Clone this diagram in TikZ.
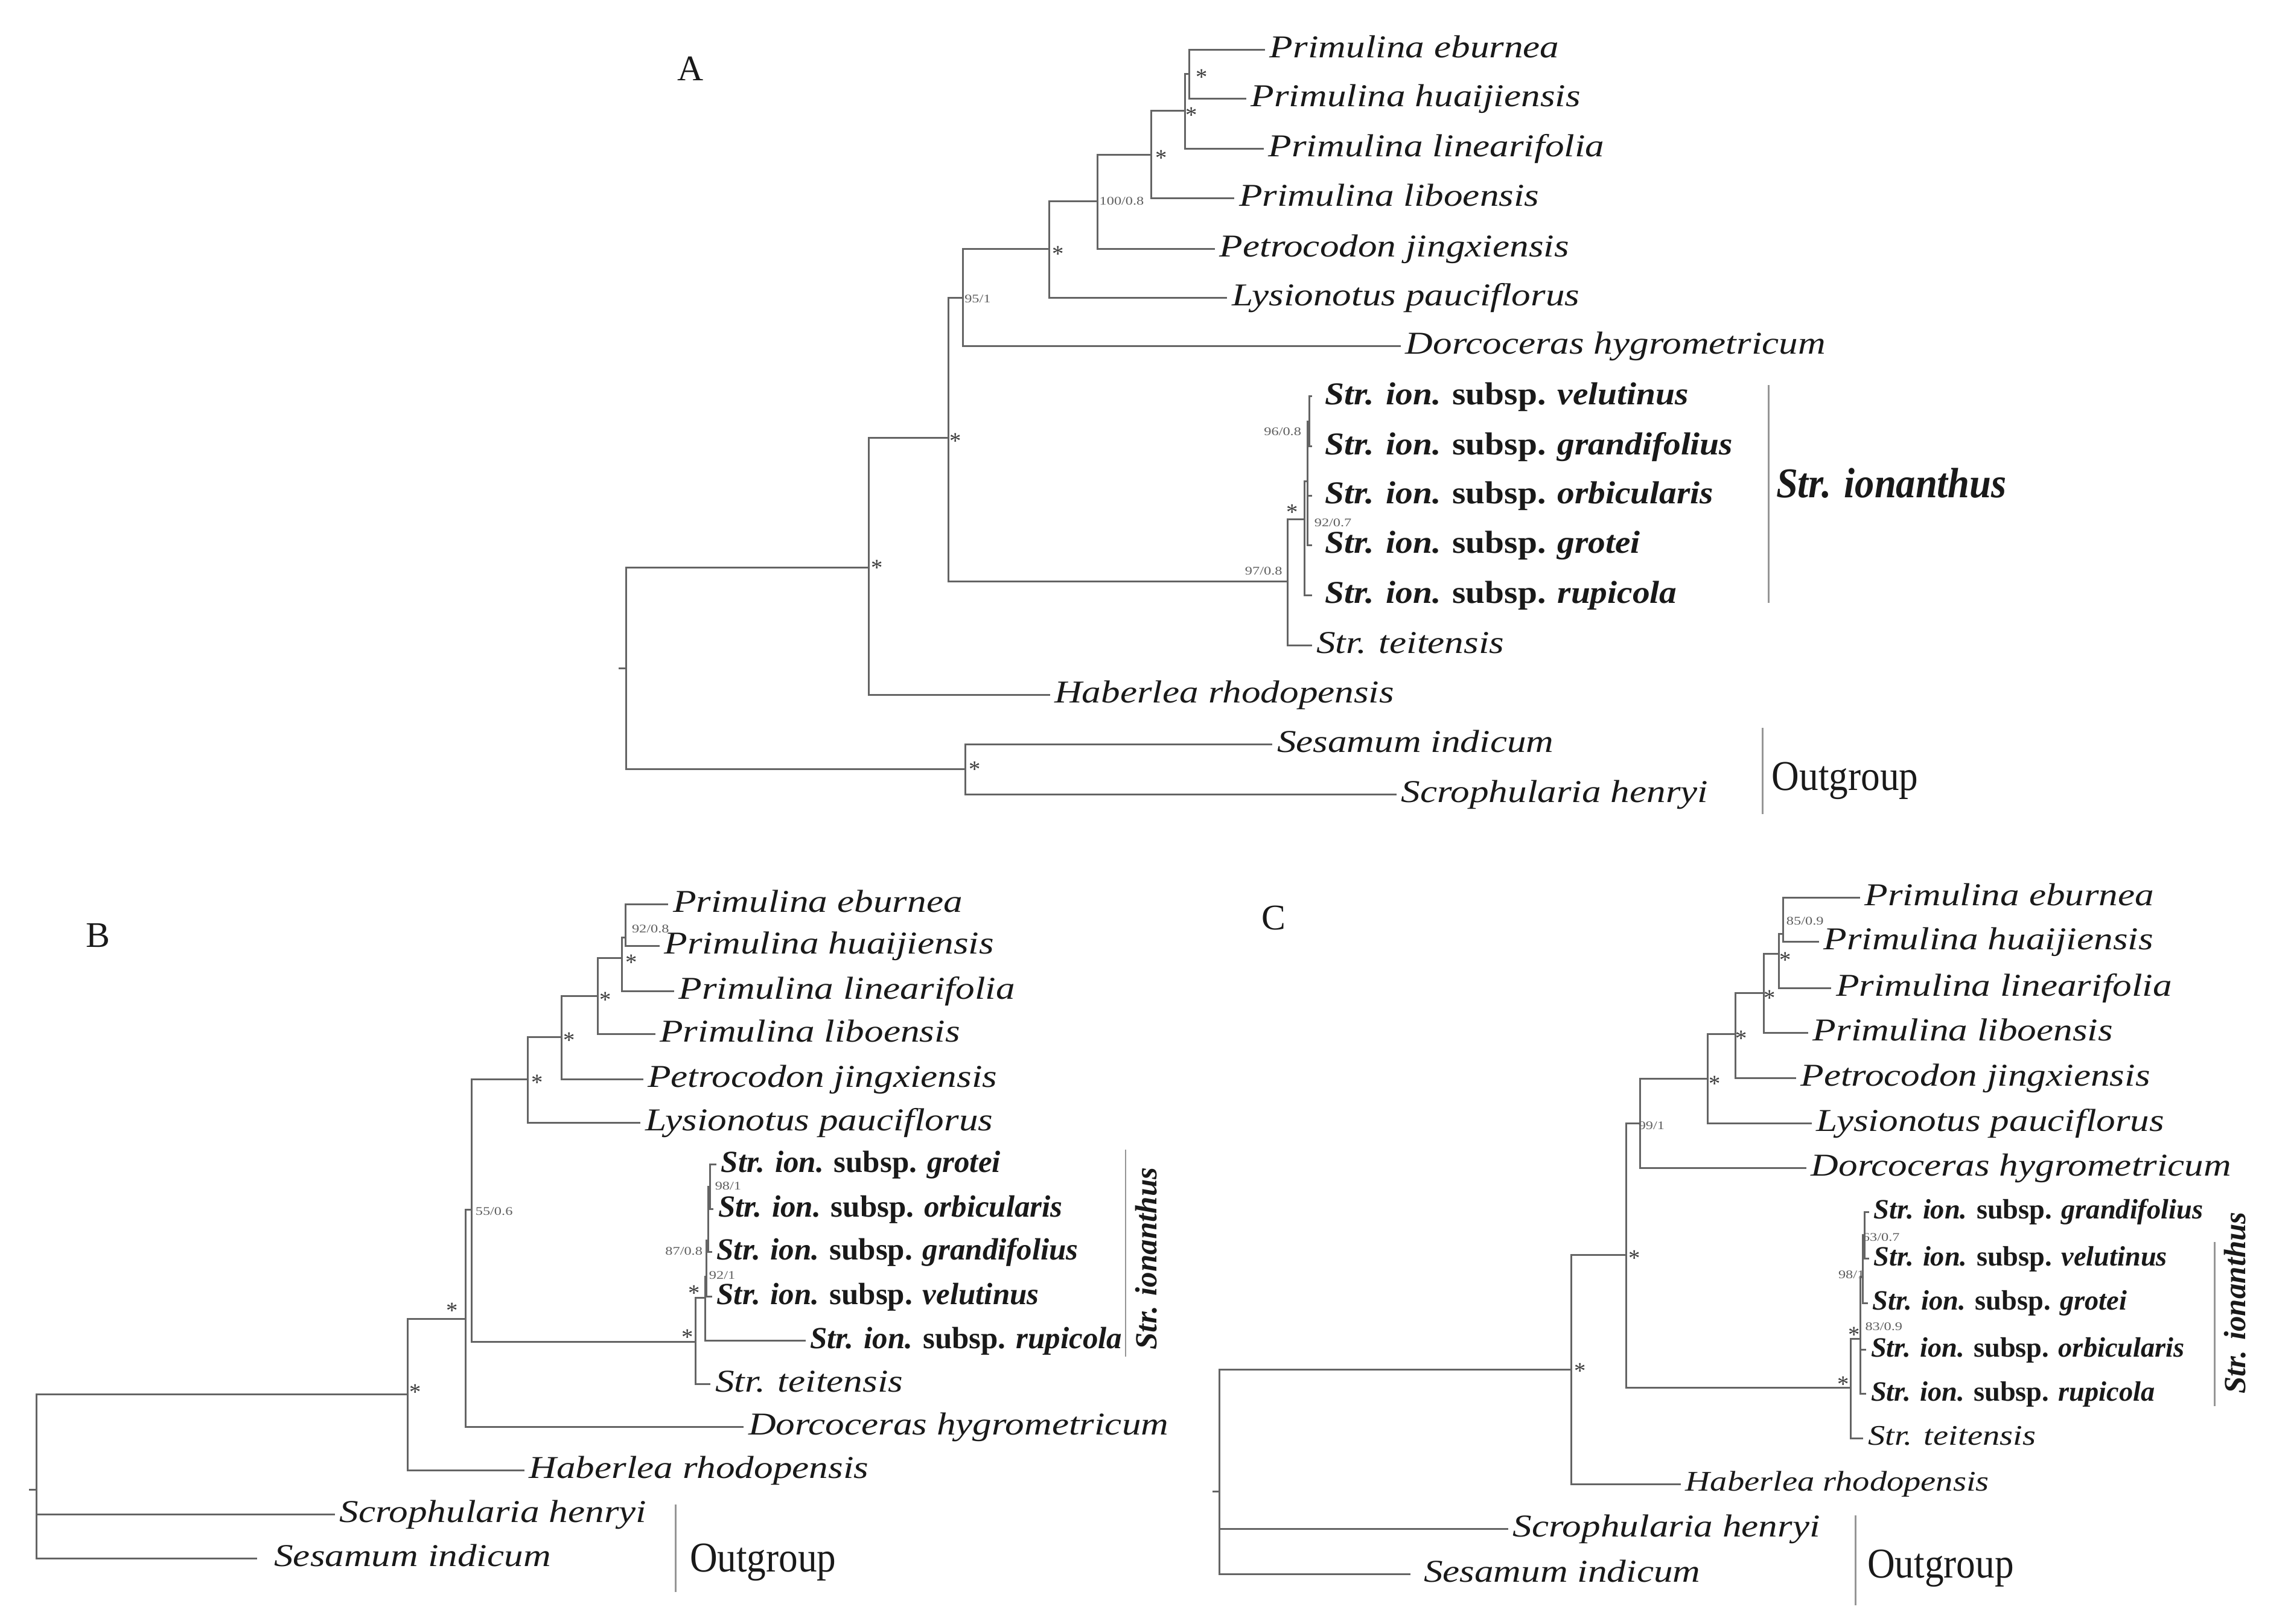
\documentclass[tikz,border=0pt]{standalone}
\usepackage{fontspec}
\setmainfont{Liberation Serif}
\usepackage{graphicx}
\definecolor{ln}{RGB}{100,100,100}
\definecolor{lb}{RGB}{150,150,150}
\definecolor{svc}{RGB}{95,95,95}
\definecolor{stc}{RGB}{60,60,60}
\definecolor{tx}{RGB}{25,25,25}
\newcommand{\nm}[1]{\scalebox{1.2}[1]{\itshape #1}}
\newcommand{\ssp}[2]{\scalebox{#1}[1]{\bfseries\textit{Str. ion.} subsp. \textit{#2}}}
\newcommand{\sv}[1]{\scalebox{1.26}[1]{#1}}
\tikzset{
  br/.style={draw=ln, line width=0.85pt},
  brk/.style={draw=lb, line width=0.7pt},
  leaf/.style={anchor=west, inner xsep=2pt, inner ysep=0pt, text height=9.4pt, text depth=2pt, text=tx, font=\fontsize{15}{17}\selectfont},
  leafs/.style={leaf, font=\fontsize{13.4}{15}\selectfont, text height=8.4pt, text depth=1.8pt},
  sspA/.style={leaf, font=\fontsize{15}{17}\selectfont, text height=9.6pt, text depth=2pt},
  sspB/.style={leaf, font=\fontsize{14.5}{17}\selectfont},
  sspC/.style={leaf, font=\fontsize{13.2}{15}\selectfont, text height=8.4pt, text depth=1.7pt},
  sup/.style={font=\fontsize{5.5}{6}\selectfont, text=svc, inner sep=0pt},
  astk/.style={font=\fontsize{11}{12}\selectfont, text=stc, inner sep=0pt, yshift=-1.6pt},
  panel/.style={font=\fontsize{17}{19}\selectfont, text=tx, inner sep=0pt},
  grp/.style={font=\fontsize{20}{22}\selectfont, text=tx, inner sep=0pt, anchor=west, text depth=0pt},
  ionlbl/.style={font=\fontsize{14.5}{16}\selectfont\bfseries\itshape, text=tx, inner sep=0pt, rotate=90}
}
\begin{document}
\begin{tikzpicture}[x=0.2418mm, y=-0.2418mm]
\useasboundingbox (0,0) rectangle (1568,1113);

% ================= TREE A =================
\node[panel] (LA) at (473,47) {A};
\coordinate (Art) at (424,458);
\coordinate (Ar) at (429,458);
\coordinate (Aing) at (595.5,389);
\coordinate (Aout) at (661.5,527);
\coordinate (Abig) at (650,300);
\coordinate (A95) at (660,204);
\coordinate (A5) at (719,170.8);
\coordinate (A100) at (752,138);
\coordinate (A3) at (789,106);
\coordinate (A2) at (812,76);
\coordinate (A1) at (815,50.7);
\coordinate (Astr) at (882.4,398.4);
\coordinate (Aion) at (894,355.7);
\coordinate (A92) at (896,330);
\coordinate (A96) at (897.5,289);

\node[leaf] (Aeb) at (867,34.3) {\nm{Primulina eburnea}};
\node[leaf] (Ahu) at (854,67.8) {\nm{Primulina huaijiensis}};
\node[leaf] (Ali) at (866,102) {\nm{Primulina linearifolia}};
\node[leaf] (Alb) at (846,135.7) {\nm{Primulina liboensis}};
\node[leaf] (Ape) at (832.6,170.8) {\nm{Petrocodon jingxiensis}};
\node[leaf] (Aly) at (841,204) {\nm{Lysionotus pauciflorus}};
\node[leaf] (Ado) at (960,237) {\nm{Dorcoceras hygrometricum}};
\node[leaf] (Aha) at (719.5,476.3) {\nm{Haberlea rhodopensis}};
\node[leaf] (Ase) at (872,510) {\nm{Sesamum indicum}};
\node[leaf] (Asc) at (957,544.7) {\nm{Scrophularia henryi}};
\node[leaf] (Ate) at (899,442.5) {\nm{Str. teitensis}};
\node[sspA] (Ave) at (905,271.6) {\ssp{1.09}{velutinus}};
\node[sspA] (Agd) at (905,306) {\ssp{1.09}{grandifolius}};
\node[sspA] (Aor) at (905,339.8) {\ssp{1.09}{orbicularis}};
\node[sspA] (Agr) at (905,373.6) {\ssp{1.09}{grotei}};
\node[sspA] (Aru) at (905,408) {\ssp{1.09}{rupicola}};

\draw[br] (Art) -- (Ar);
\draw[br] (Ar) |- (Aing);
\draw[br] (Ar) |- (Aout);
\draw[br] (Aing) |- (Abig);
\draw[br] (Aing) |- (Aha.west);
\draw[br] (Aout) |- (Ase.west);
\draw[br] (Aout) |- (Asc.west);
\draw[br] (Abig) |- (A95);
\draw[br] (Abig) |- (Astr);
\draw[br] (A95) |- (A5);
\draw[br] (A95) |- (Ado.west);
\draw[br] (A5) |- (A100);
\draw[br] (A5) |- (Aly.west);
\draw[br] (A100) |- (A3);
\draw[br] (A100) |- (Ape.west);
\draw[br] (A3) |- (A2);
\draw[br] (A3) |- (Alb.west);
\draw[br] (A2) |- (A1);
\draw[br] (A2) |- (Ali.west);
\draw[br] (A1) |- (Aeb.west);
\draw[br] (A1) |- (Ahu.west);
\draw[br] (Astr) |- (Aion);
\draw[br] (Astr) |- (Ate.west);
\draw[br] (Aion) |- (A92);
\draw[br, shorten >=4pt] (Aion) |- (Aru.west);
\draw[br] (A92) |- (A96);
\draw[br, shorten >=4pt] (A92) |- (Aor.west);
\draw[br, shorten >=4pt] (A92) |- (Agr.west);
\draw[br, shorten >=4pt] (A96) |- (Ave.west);
\draw[br, shorten >=4pt] (A96) |- (Agd.west);

\node[astk] (sA1) at (823.5,50.7) {*};
\node[astk] (sA2) at (816.6,76.8) {*};
\node[astk] (sA3) at (795.7,106) {*};
\node[sup] (lA100) at (768.7,138) {\sv{100/0.8}};
\node[astk] (sA5) at (725,171.7) {*};
\node[sup] (lA95) at (670,205) {\sv{95/1}};
\node[astk] (sAbig) at (655,300) {*};
\node[astk] (sAing) at (601,387) {*};
\node[astk] (sAout) at (668,525) {*};
\node[sup] (lA97) at (866,391.5) {\sv{97/0.8}};
\node[astk] (sAstr) at (885.5,348.8) {*};
\node[sup] (lA96) at (879,295.7) {\sv{96/0.8}};
\node[sup] (lA92) at (913.5,358.4) {\sv{92/0.7}};

\coordinate (AbT) at (1212,264);
\coordinate (AbB) at (1212,413);
\draw[brk] (AbT) -- (AbB);
\node[anchor=west, inner sep=0pt, text=tx, font=\fontsize{20}{22}\selectfont\bfseries\itshape] (Aionl) at (1217,331) {\scalebox{0.917}[1]{Str. ionanthus}};
\coordinate (AoT) at (1208,499);
\coordinate (AoB) at (1208,558);
\draw[brk] (AoT) -- (AoB);
\node[grp] (Aog) at (1214,532) {\scalebox{0.9}[1]{Outgroup}};

% ================= TREE B =================
\node[panel] (LB) at (67,641) {B};
\coordinate (Brt) at (19.8,1021);
\coordinate (Br) at (25,1021);
\coordinate (Bing) at (279.5,955.8);
\coordinate (Bs) at (319,904);
\coordinate (B55) at (323.4,829);
\coordinate (Bpr) at (361.8,739.8);
\coordinate (Bp4) at (384.8,710.6);
\coordinate (Bp3) at (409.8,682.8);
\coordinate (Bp2) at (426.3,656.7);
\coordinate (Bp1) at (428.5,642.4);
\coordinate (Bstr) at (476.5,919.5);
\coordinate (Bion) at (483.2,889.4);
\coordinate (B92) at (484.2,875);
\coordinate (B87) at (485.3,850);
\coordinate (B98) at (486.5,813.3);

\node[leaf] (Beb) at (458,619.9) {\nm{Primulina eburnea}};
\node[leaf] (Bhu) at (452,648.4) {\nm{Primulina huaijiensis}};
\node[leaf] (Bli) at (462,679.2) {\nm{Primulina linearifolia}};
\node[leaf] (Blb) at (449,708.9) {\nm{Primulina liboensis}};
\node[leaf] (Bpe) at (440.7,739.8) {\nm{Petrocodon jingxiensis}};
\node[leaf] (Bly) at (439,769.5) {\nm{Lysionotus pauciflorus}};
\node[leaf] (Bdo) at (509.7,978.1) {\nm{Dorcoceras hygrometricum}};
\node[leaf] (Bha) at (359.3,1007.7) {\nm{Haberlea rhodopensis}};
\node[leaf] (Bsc) at (229.5,1037.8) {\nm{Scrophularia henryi}};
\node[leaf, inner xsep=8pt] (Bse) at (176,1068.1) {\nm{Sesamum indicum}};
\node[leaf] (Bte) at (487,948.4) {\nm{Str. teitensis}};
\node[sspB] (Bgr) at (491,798.2) {\ssp{1}{grotei}};
\node[sspB] (Bor) at (489,828.5) {\ssp{1}{orbicularis}};
\node[sspB] (Bgd) at (488,858.2) {\ssp{1}{grandifolius}};
\node[sspB] (Bve) at (488,888.5) {\ssp{1}{velutinus}};
\node[sspB] (Bru) at (552,918.8) {\ssp{1}{rupicola}};

\draw[br] (Brt) -- (Br);
\draw[br] (Br) |- (Bing);
\draw[br] (Br) |- (Bsc.west);
\draw[br] (Br) |- (Bse.west);
\draw[br] (Bing) |- (Bs);
\draw[br] (Bing) |- (Bha.west);
\draw[br] (Bs) |- (B55);
\draw[br] (Bs) |- (Bdo.west);
\draw[br] (B55) |- (Bpr);
\draw[br] (B55) |- (Bstr);
\draw[br] (Bpr) |- (Bp4);
\draw[br] (Bpr) |- (Bly.west);
\draw[br] (Bp4) |- (Bp3);
\draw[br] (Bp4) |- (Bpe.west);
\draw[br] (Bp3) |- (Bp2);
\draw[br] (Bp3) |- (Blb.west);
\draw[br] (Bp2) |- (Bp1);
\draw[br] (Bp2) |- (Bli.west);
\draw[br] (Bp1) |- (Beb.west);
\draw[br] (Bp1) |- (Bhu.west);
\draw[br] (Bstr) |- (Bion);
\draw[br] (Bstr) |- (Bte.west);
\draw[br] (Bion) |- (B92);
\draw[br] (Bion) |- (Bru.west);
\draw[br] (B92) |- (B87);
\draw[br] (B92) |- (Bve.west);
\draw[br] (B87) |- (B98);
\draw[br] (B87) |- (Bgd.west);
\draw[br] (B98) |- (Bgr.west);
\draw[br] (B98) |- (Bor.west);

\node[sup] (lB92) at (445.8,636.5) {\sv{92/0.8}};
\node[astk] (sBp2) at (432.8,657.4) {*};
\node[astk] (sBp3) at (415,682.8) {*};
\node[astk] (sBp4) at (390.3,710.6) {*};
\node[astk] (sBpr) at (368,739.8) {*};
\node[sup] (lB55) at (338.6,830) {\sv{55/0.6}};
\node[astk] (sBs) at (310,896) {*};
\node[astk] (sBing) at (284.6,952) {*};
\node[astk] (sBstr) at (471.2,914) {*};
\node[astk] (sBion) at (475.6,884) {*};
\node[sup] (lB98) at (499,812.7) {\sv{98/1}};
\node[sup] (lB87) at (468.7,857.4) {\sv{87/0.8}};
\node[sup] (lB921) at (494.9,874) {\sv{92/1}};

\coordinate (BbT) at (771.4,787.8);
\coordinate (BbB) at (771.4,929.8);
\draw[brk] (BbT) -- (BbB);
\node[ionlbl] (Bionl) at (785.6,862.6) {Str. ionanthus};
\coordinate (BoT) at (463,1031.1);
\coordinate (BoB) at (463,1091.1);
\draw[brk] (BoT) -- (BoB);
\node[grp] (Bog) at (472.5,1067.7) {\scalebox{0.9}[1]{Outgroup}};

% ================= TREE C =================
\node[panel] (LC) at (873,629) {C};
\coordinate (Crt) at (831,1022.2);
\coordinate (Cr) at (835.6,1022.2);
\coordinate (Cing) at (1077,938.8);
\coordinate (Cs) at (1114.5,860);
\coordinate (C99) at (1124,769.8);
\coordinate (Ca5) at (1170.4,739.3);
\coordinate (Ca4) at (1189.3,708.6);
\coordinate (Ca3) at (1208.8,680.7);
\coordinate (Ca2) at (1219,653.5);
\coordinate (Ca1) at (1222.2,640);
\coordinate (Cstr) at (1268.4,951.2);
\coordinate (Cion) at (1275.1,917.4);
\coordinate (C98) at (1276.5,875);
\coordinate (C63) at (1277.8,846.6);

\node[leaf] (Ceb) at (1274.7,615.2) {\nm{Primulina eburnea}};
\node[leaf] (Chu) at (1246.5,645.6) {\nm{Primulina huaijiensis}};
\node[leaf] (Cli) at (1255,677.2) {\nm{Primulina linearifolia}};
\node[leaf] (Clb) at (1239.2,707.8) {\nm{Primulina liboensis}};
\node[leaf] (Cpe) at (1230.8,739) {\nm{Petrocodon jingxiensis}};
\node[leaf] (Cly) at (1241.7,769.8) {\nm{Lysionotus pauciflorus}};
\node[leaf] (Cdo) at (1238,800.7) {\nm{Dorcoceras hygrometricum}};
\node[leafs] (Cha) at (1152,1017.1) {\nm{Haberlea rhodopensis}};
\node[leaf] (Csc) at (1033.7,1048) {\nm{Scrophularia henryi}};
\node[leaf, inner xsep=6pt] (Cse) at (966.7,1079) {\nm{Sesamum indicum}};
\node[leafs] (Cte) at (1277,985.7) {\nm{Str. teitensis}};
\node[sspC] (Cgd) at (1281,830.6) {\ssp{1}{grandifolius}};
\node[sspC] (Cve) at (1281,862.7) {\ssp{1}{velutinus}};
\node[sspC] (Cgr) at (1280,893) {\ssp{1}{grotei}};
\node[sspC] (Cor) at (1279,925) {\ssp{1}{orbicularis}};
\node[sspC] (Cru) at (1279,955.3) {\ssp{1}{rupicola}};

\draw[br] (Crt) -- (Cr);
\draw[br] (Cr) |- (Cing);
\draw[br] (Cr) |- (Csc.west);
\draw[br] (Cr) |- (Cse.west);
\draw[br] (Cing) |- (Cs);
\draw[br] (Cing) |- (Cha.west);
\draw[br] (Cs) |- (C99);
\draw[br] (Cs) |- (Cstr);
\draw[br] (C99) |- (Ca5);
\draw[br] (C99) |- (Cdo.west);
\draw[br] (Ca5) |- (Ca4);
\draw[br] (Ca5) |- (Cly.west);
\draw[br] (Ca4) |- (Ca3);
\draw[br] (Ca4) |- (Cpe.west);
\draw[br] (Ca3) |- (Ca2);
\draw[br] (Ca3) |- (Clb.west);
\draw[br] (Ca2) |- (Ca1);
\draw[br] (Ca2) |- (Cli.west);
\draw[br] (Ca1) |- (Ceb.west);
\draw[br] (Ca1) |- (Chu.west);
\draw[br] (Cstr) |- (Cion);
\draw[br] (Cstr) |- (Cte.west);
\draw[br] (Cion) |- (C98);
\draw[br] (Cion) |- (Cor.west);
\draw[br] (Cion) |- (Cru.west);
\draw[br] (C98) |- (C63);
\draw[br] (C98) |- (Cgr.west);
\draw[br] (C63) |- (Cgd.west);
\draw[br] (C63) |- (Cve.west);

\node[sup] (lC85) at (1237,631.3) {\sv{85/0.9}};
\node[astk] (sCa2) at (1223.5,655.5) {*};
\node[astk] (sCa3) at (1212.7,681.7) {*};
\node[astk] (sCa4) at (1193.4,709.4) {*};
\node[astk] (sCa5) at (1175.2,740.4) {*};
\node[sup] (lC99) at (1131.8,771.3) {\sv{99/1}};
\node[astk] (sCs) at (1120,860) {*};
\node[astk] (sCing) at (1082.7,937.4) {*};
\node[astk] (sCstr) at (1263.2,946.4) {*};
\node[astk] (sCion) at (1270.5,912.6) {*};
\node[sup] (lC63) at (1289.1,847.8) {\sv{63/0.7}};
\node[sup] (lC98) at (1268.8,873.7) {\sv{98/1}};
\node[sup] (lC83) at (1291,909.2) {\sv{83/0.9}};

\coordinate (CbT) at (1517.8,851.3);
\coordinate (CbB) at (1517.8,963.6);
\draw[brk] (CbT) -- (CbB);
\node[ionlbl] (Cionl) at (1531.8,893) {Str. ionanthus};
\coordinate (CoT) at (1271.6,1038.7);
\coordinate (CoB) at (1271.6,1100);
\draw[brk] (CoT) -- (CoB);
\node[grp] (Cog) at (1279.5,1071.8) {\scalebox{0.9}[1]{Outgroup}};
\end{tikzpicture}
\end{document}
